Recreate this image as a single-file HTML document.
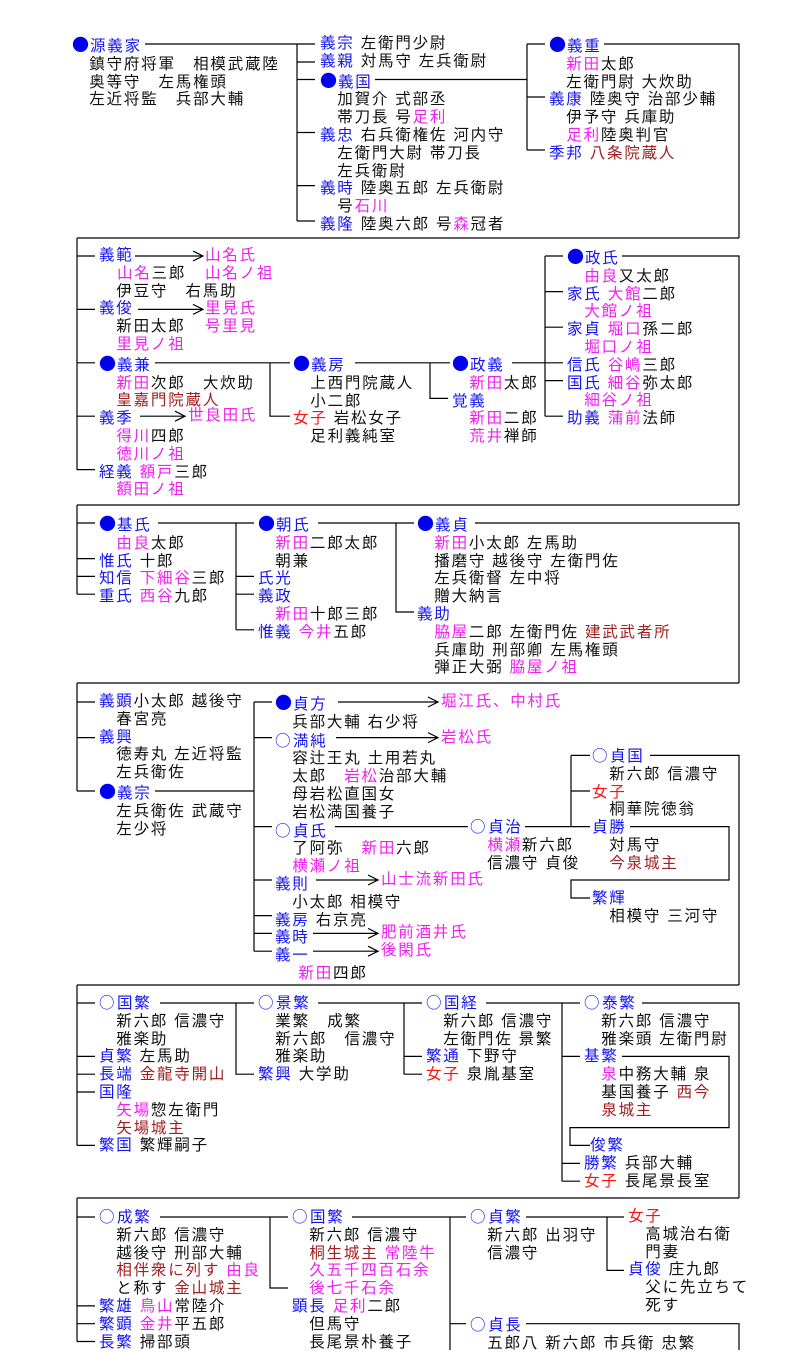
<!DOCTYPE html>
<html><head><meta charset="utf-8">
<style>
html,body{margin:0;padding:0;background:#fff;}
body{width:794px;height:1350px;position:relative;overflow:hidden;font-family:"Liberation Sans","Noto Sans CJK JP",sans-serif;font-size:15.5px;color:#111;}
.t{position:absolute;line-height:17.8px;white-space:pre;letter-spacing:1.8px;}
.b{color:#1515ee}.m{color:#f020f0}.r{color:#a02020}.R{color:#ff1010}
.d{color:#0000ee;font-family:"Noto Sans CJK JP",sans-serif;letter-spacing:0;display:inline-block;width:18px;font-size:17px;line-height:17px;}
.o{color:#1515ee;font-family:"Noto Sans CJK JP",sans-serif;letter-spacing:0;display:inline-block;width:18px;}
svg{position:absolute;left:0;top:0;}
</style></head><body>
<svg width="794" height="1350" stroke="#000" stroke-width="1.2" fill="none">
<path d="M145 44H297M297 44V221M297 44H315M297 62H315M297 79.5H315M297 132.5H315M297 185.6H315M297 221H315"/>
<path d="M375 79.5H527M527 44V150M527 44H545M527 97H545M527 150H545"/>
<path d="M604 44H739V238M77 238H739"/>
<path d="M77 238V470M77 256H95M77 309.4H95M77 362.8H95M77 416.2H95M77 469.6H95"/>
<path d="M135 256H203M193 251L203 256L193 261M138 309.4H203M193 304.4L203 309.4L193 314.4M140 416.2H185M175 411.2L185 416.2L175 421.2"/>
<path d="M155 362.8H290M270 362.8V416.2H290"/>
<path d="M355 362.8H450M430 362.8V398.4H448"/>
<path d="M512 362.8H563M545 256V416.2M545 256H563M545 291.6H563M545 327.2H563M545 380.6H563M545 416.2H563"/>
<path d="M622 256H739V505M77 505H739"/>
<path d="M77 505V594.2M77 523H95M77 558.6H95M77 576.4H95M77 594.2H95"/>
<path d="M158 523H254M236 523V629.8M236 576.4H254M236 594.2H254M236 629.8H254"/>
<path d="M318 523H414M396 523V612H414"/>
<path d="M475 523H739V683M77 683H739"/>
<path d="M77 683V791M77 702H95M77 737.6H95M77 791H95"/>
<path d="M155 791H254M254 702V951.2M254 702H272M254 737.6H272M254 826.6H272M254 880H272M254 915.6H272M254 933.4H272M254 951.2H272"/>
<path d="M338 702H438M428 697L438 702L428 707M336 737.6H438M428 732.6L438 737.6L428 742.6M316 880H378M368 875L378 880L368 885M313 933.4H378M368 928.4L378 933.4L368 938.4M313 951.2H378M368 946.2L378 951.2L368 956.2"/>
<path d="M335 826.6H468M525 826.6H590M571 755.4V826.6M571 755.4H590M571 791H590"/>
<path d="M630 826.6H729V880H571V898H590"/>
<path d="M650 755.4H739V985M77 985H739"/>
<path d="M77 985V1145.4M77 1003H95M77 1056.4H95M77 1074.2H95M77 1092H95M77 1145.4H95"/>
<path d="M160 1003H254M236 1003V1074.2H254"/>
<path d="M318 1003H422M404 1003V1074.2M404 1056.4H422M404 1074.2H422"/>
<path d="M486 1003H580M562 1003V1181.2M562 1056.4H580M562 1163.4H580M562 1181.2H580"/>
<path d="M622 1056.4H729V1127.6H570V1145.4H590"/>
<path d="M642 1003H739V1198M77 1198H739"/>
<path d="M77 1198V1341.5M77 1217H95M77 1305.9H95M77 1323.7H95M77 1341.5H95"/>
<path d="M160 1217H288M270 1217V1288H288"/>
<path d="M352 1217H466M450 1217V1350M450 1323.7H466"/>
<path d="M526 1217H624M607 1217V1270.4H624"/>
<path d="M526 1323.7H739V1350"/>
</svg>

<div class="t" style="left:72px;top:35px"><span class="d">●</span><span class="b">源義家</span>
　鎮守府将軍　相模武蔵陸
　奥等守　左馬権頭
　左近将監　兵部大輔</div>

<div class="t" style="left:320px;top:35px"><span class="b">義宗</span> 左衛門少尉
<span class="b">義親</span> 対馬守 左兵衛尉
<span class="d">●</span><span class="b">義国</span>
　加賀介 式部丞
　帯刀長 号<span class="m">足利</span>
<span class="b">義忠</span> 右兵衛権佐 河内守
　左衛門大尉 帯刀長
　左兵衛尉
<span class="b">義時</span> 陸奥五郎 左兵衛尉
　号<span class="m">石川</span>
<span class="b">義隆</span> 陸奥六郎 号<span class="m">森</span>冠者</div>

<div class="t" style="left:549px;top:35px"><span class="d">●</span><span class="b">義重</span>
　<span class="m">新田</span>太郎
　左衛門尉 大炊助
<span class="b">義康</span> 陸奥守 治部少輔
　伊予守 兵庫助
　<span class="m">足利</span>陸奥判官
<span class="b">季邦</span> <span class="r">八条院蔵人</span></div>

<div class="t" style="left:99px;top:247px"><span class="b">義範</span>

　伊豆守　右馬助
<span class="b">義俊</span>
　新田太郎
　<span class="m">里見ノ祖</span>
<span class="d">●</span><span class="b">義兼</span>
　<span class="m">新田</span>次郎　大炊助
　<span class="r">皇嘉門院蔵人</span>
<span class="b">義季</span>
　<span class="m">得川</span>四郎
　<span class="m">徳川ノ祖</span>
<span class="b">経義</span> <span class="m">額戸</span>三郎
　<span class="m">額田ノ祖</span></div>
<div class="t" style="left:117px;top:265px"><span class="m">山名</span>三郎</div>
<div class="t m" style="left:205px;top:247px">山名氏
山名ノ祖</div>
<div class="t m" style="left:205px;top:300px">里見氏
号里見</div>
<div class="t m" style="left:188px;top:407px">世良田氏</div>

<div class="t" style="left:293px;top:354px"><span class="d">●</span><span class="b">義房</span>
　上西門院蔵人
　小二郎
<span class="R">女子</span> 岩松女子
　足利義純室</div>

<div class="t" style="left:452px;top:354px"><span class="d">●</span><span class="b">政義</span>
　<span class="m">新田</span>太郎
<span class="b">覚義</span>
　<span class="m">新田</span>二郎
　<span class="m">荒井</span>禅師</div>

<div class="t" style="left:567px;top:247px"><span class="d">●</span><span class="b">政氏</span>
　<span class="m">由良</span>又太郎
<span class="b">家氏</span> <span class="m">大館</span>二郎
　<span class="m">大館ノ祖</span>
<span class="b">家貞</span> <span class="m">堀口</span>孫二郎
　<span class="m">堀口ノ祖</span>
<span class="b">信氏</span> <span class="m">谷嶋</span>三郎
<span class="b">国氏</span> <span class="m">細谷</span>弥太郎
　<span class="m">細谷ノ祖</span>
<span class="b">助義</span> <span class="m">蒲前</span>法師</div>

<div class="t" style="left:99px;top:514px"><span class="d">●</span><span class="b">基氏</span>
　<span class="m">由良</span>太郎
<span class="b">惟氏</span> 十郎
<span class="b">知信</span> <span class="m">下細谷</span>三郎
<span class="b">重氏</span> <span class="m">西谷</span>九郎</div>

<div class="t" style="left:258px;top:514px"><span class="d">●</span><span class="b">朝氏</span>
　<span class="m">新田</span>二郎太郎
　朝兼
<span class="b">氏光</span>
<span class="b">義政</span>
　<span class="m">新田</span>十郎三郎
<span class="b">惟義</span> <span class="m">今井</span>五郎</div>

<div class="t" style="left:417px;top:514px"><span class="d">●</span><span class="b">義貞</span>
　<span class="m">新田</span>小太郎 左馬助
　播磨守 越後守 左衛門佐
　左兵衛督 左中将
　贈大納言
<span class="b">義助</span>
　<span class="m">脇屋</span>二郎 左衛門佐 <span class="r">建武武者所</span>
　兵庫助 刑部卿 左馬権頭
　弾正大弼 <span class="m">脇屋ノ祖</span></div>

<div class="t" style="left:99px;top:693px"><span class="b">義顕</span>小太郎 越後守
　春宮亮
<span class="b">義興</span>
　徳寿丸 左近将監
　左兵衛佐
<span class="d">●</span><span class="b">義宗</span>
　左兵衛佐 武蔵守
　左少将</div>

<div class="t" style="left:275px;top:693px"><span class="d">●</span><span class="b">貞方</span>
　兵部大輔 右少将
<span class="o">○</span><span class="b">満純</span>
　容辻王丸 土用若丸
　太郎　<span class="m">岩松</span>治部大輔
　母岩松直国女
　岩松満国養子
<span class="o">○</span><span class="b">貞氏</span>
　了阿弥　<span class="m">新田</span>六郎
　<span class="m">横瀬ノ祖</span>
<span class="b">義則</span>
　小太郎 相模守
<span class="b">義房</span> 右京亮
<span class="b">義時</span>
<span class="b">義一</span>
　 <span class="m">新田</span>四郎</div>
<div class="t m" style="left:441px;top:693px">堀江氏、中村氏</div>
<div class="t m" style="left:441px;top:729px">岩松氏</div>
<div class="t m" style="left:381px;top:871px">山士流新田氏</div>
<div class="t m" style="left:381px;top:924px">肥前酒井氏</div>
<div class="t m" style="left:381px;top:942px">後閑氏</div>

<div class="t" style="left:470px;top:818px"><span class="o">○</span><span class="b">貞治</span>
　<span class="m">横瀬</span>新六郎
　信濃守 貞俊</div>

<div class="t" style="left:592px;top:747px"><span class="o">○</span><span class="b">貞国</span>
　新六郎 信濃守
<span class="R">女子</span>
　桐華院徳翁
<span class="b">貞勝</span>
　対馬守
　<span class="r">今泉城主</span>

<span class="b">繁輝</span>
　相模守 三河守</div>

<div class="t" style="left:99px;top:994px"><span class="o">○</span><span class="b">国繁</span>
　新六郎 信濃守
　雅楽助
<span class="b">貞繁</span> 左馬助
<span class="b">長端</span> <span class="r">金龍寺開山</span>
<span class="b">国隆</span>
　<span class="m">矢場</span>惣左衛門
　<span class="r">矢場城主</span>
<span class="b">繁国</span> 繁輝嗣子</div>

<div class="t" style="left:258px;top:994px"><span class="o">○</span><span class="b">景繁</span>
　業繁　成繁
　新六郎　信濃守
　雅楽助
<span class="b">繁興</span> 大学助</div>

<div class="t" style="left:426px;top:994px"><span class="o">○</span><span class="b">国経</span>
　新六郎 信濃守
　左衛門佐 景繁
<span class="b">繁通</span> 下野守
<span class="R">女子</span> 泉胤基室</div>

<div class="t" style="left:584px;top:994px"><span class="o">○</span><span class="b">泰繁</span>
　新六郎 信濃守
　雅楽頭 左衛門尉
<span class="b">基繁</span>
　<span class="m">泉</span>中務大輔 泉
　基国養子 <span class="r">西今</span>
　<span class="r">泉城主</span>

 <span class="b">俊繁</span>
<span class="b">勝繁</span> 兵部大輔
<span class="R">女子</span> 長尾景長室</div>

<div class="t" style="left:99px;top:1208px"><span class="o">○</span><span class="b">成繁</span>
　新六郎 信濃守
　越後守 刑部大輔
　<span class="r">相伴衆に列す</span> <span class="m">由良</span>
　と称す <span class="r">金山城主</span>
<span class="b">繁雄</span> <span class="m">鳥山</span>常陸介
<span class="b">繁顕</span> <span class="m">金井</span>平五郎
<span class="b">長繁</span> 掃部頭</div>

<div class="t" style="left:292px;top:1208px"><span class="o">○</span><span class="b">国繁</span>
　新六郎 信濃守
　<span class="r">桐生城主</span> <span class="m">常陸牛</span>
　<span class="m">久五千四百石余</span>
　<span class="m">後七千石余</span>
<span class="b">顕長</span> <span class="m">足利</span>二郎
　但馬守
　長尾景朴養子</div>

<div class="t" style="left:470px;top:1208px"><span class="o">○</span><span class="b">貞繁</span>
　新六郎 出羽守
　信濃守



<span class="o">○</span><span class="b">貞長</span>
　五郎八 新六郎 市兵衛 忠繁</div>

<div class="t" style="left:628px;top:1208px"><span class="R">女子</span>
　高城治右衛
　門妻
<span class="b">貞俊</span> 庄九郎
　父に先立ちて
　死す</div>
</body></html>
